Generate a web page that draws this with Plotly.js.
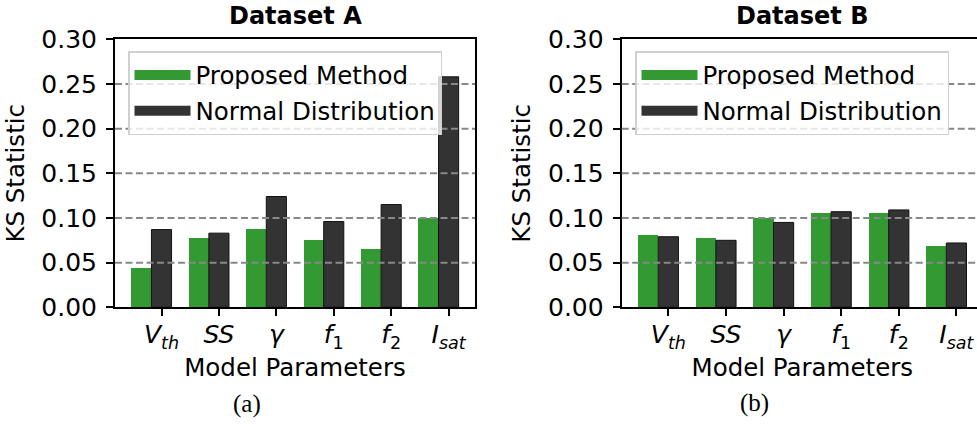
<!DOCTYPE html>
<html>
<head>
<meta charset="utf-8">
<script src="https://cdn.plot.ly/plotly-3.0.1.min.js"></script>
<style>
html,body{margin:0;padding:0;overflow:hidden;background:#fff;width:977px;height:428px;}
#chart{width:984px;height:428px;}
</style>
</head>
<body>
<div id="chart"></div>
<script>
// ---- data ----
const paramLabels = ["<i>V</i><sub><i>th</i></sub>", "<i>SS</i>", "<i>γ</i>", "<i>f</i><sub>1</sub>", "<i>f</i><sub>2</sub>", "<i>I</i><sub><i>sat</i></sub>"];
const paramIndex = [0, 1, 2, 3, 4, 5];
const proposedA = [0.044, 0.078, 0.088, 0.075, 0.065, 0.100];
const normalA   = [0.087, 0.083, 0.124, 0.096, 0.115, 0.258];
const proposedB = [0.081, 0.078, 0.100, 0.106, 0.106, 0.069];
const normalB   = [0.079, 0.075, 0.095, 0.107, 0.109, 0.072];
const gridValues = [0.05, 0.10, 0.15, 0.20, 0.25];
const yTicks = [0, 0.05, 0.10, 0.15, 0.20, 0.25, 0.30];
const yTickText = ["0.00", "0.05", "0.10", "0.15", "0.20", "0.25", "0.30"];
const seriesNames = ["Proposed Method", "Normal Distribution"];
const panelTitles = ["Dataset A", "Dataset B"];
const captions = ["(a)", "(b)"];

// ---- styling ----
const GREEN = "#339933";
const DARK = "#333333";
const W = 984, H = 428;
const FONT = "DejaVu Sans, Verdana, sans-serif";
const barW = 0.35;

function yPaper(px){ return (H - px) / H; }

const domA = [115 / W, 475 / W];
const domB = [621.7 / W, 982.9 / W];
const domY = [yPaper(307.3), yPaper(39.3)];

const traces = [];
function addPanel(props, norms, xa, ya, legendName, grp){
  traces.push({type:"bar", x:paramIndex, y:props, xaxis:xa, yaxis:ya, width:barW, offset:-1.5*barW,
    marker:{color:GREEN, line:{width:0}}, showlegend:false, legendgroup:grp+"1", hoverinfo:"y"});
  traces.push({type:"bar", x:paramIndex, y:norms, xaxis:xa, yaxis:ya, width:barW, offset:-0.5*barW,
    marker:{color:DARK, line:{width:1, color:"#111"}}, showlegend:false, legendgroup:grp+"2", hoverinfo:"y"});
  // legend entries (swatches)
  traces.push({type:"scatter", mode:"lines", x:[null], y:[null], xaxis:xa, yaxis:ya, name:seriesNames[0],
    line:{color:GREEN, width:18}, legend:legendName, legendgroup:grp+"1", hoverinfo:"skip"});
  traces.push({type:"scatter", mode:"lines", x:[null], y:[null], xaxis:xa, yaxis:ya, name:seriesNames[1],
    line:{color:DARK, width:18}, legend:legendName, legendgroup:grp+"2", hoverinfo:"skip"});
}
addPanel(proposedA, normalA, "x", "y", "legend", "a");
addPanel(proposedB, normalB, "x2", "y2", "legend2", "b");

function xAxis(dom, anchor){
  return {domain:dom, anchor:anchor, range:[-0.81, 5.46], tickmode:"array", tickvals:paramIndex, ticktext:paramLabels,
    ticks:"outside", ticklen:7, tickwidth:2, tickcolor:"#000", showline:true, linewidth:2, linecolor:"#000", mirror:true,
    showgrid:false, zeroline:false, layer:"above traces", fixedrange:true, ticklabelstandoff:-3,
    tickfont:{family:FONT, size:25, color:"#000"},
    title:{text:"Model Parameters", font:{family:FONT, size:24.5, color:"#000"}, standoff:0}};
}
function yAxis(anchor){
  return {domain:domY, anchor:anchor, range:[0, 0.30], tickmode:"array", tickvals:yTicks, ticktext:yTickText,
    ticks:"outside", ticklen:7, tickwidth:2, tickcolor:"#000", showline:true, linewidth:2, linecolor:"#000", mirror:true,
    showgrid:false, zeroline:false, layer:"above traces", fixedrange:true, ticklabelstandoff:4,
    tickfont:{family:FONT, size:25, color:"#000"},
    title:{text:"KS Statistic", font:{family:FONT, size:24.5, color:"#000"}, standoff:10}};
}

const shapes = [];
[["x","y"],["x2","y2"]].forEach(([xa,ya]) => {
  gridValues.forEach(v => shapes.push({type:"line", xref:xa+" domain", yref:ya, x0:0, x1:1, y0:v, y1:v,
    layer:"above", line:{color:"#888888", width:2, dash:"7px,3.5px"}}));
});

const annotations = [
  {text:"<b>"+panelTitles[0]+"</b>", xref:"x domain", yref:"paper", x:0.5, y:yPaper(16.5), xanchor:"center", yanchor:"middle",
   showarrow:false, font:{family:FONT, size:24, color:"#000"}},
  {text:"<b>"+panelTitles[1]+"</b>", xref:"x2 domain", yref:"paper", x:0.5, y:yPaper(16.5), xanchor:"center", yanchor:"middle",
   showarrow:false, font:{family:FONT, size:24, color:"#000"}},
  {text:captions[0], xref:"paper", yref:"paper", x:247/W, y:yPaper(404), xanchor:"center", yanchor:"middle",
   showarrow:false, font:{family:"Liberation Serif, DejaVu Serif, serif", size:25, color:"#000"}},
  {text:captions[1], xref:"paper", yref:"paper", x:754/W, y:yPaper(403), xanchor:"center", yanchor:"middle",
   showarrow:false, font:{family:"Liberation Serif, DejaVu Serif, serif", size:25, color:"#000"}}
];

function legendCfg(leftPx){
  return {x:leftPx/W, y:yPaper(51), xanchor:"left", yanchor:"top", xref:"paper", yref:"paper",
    bgcolor:"rgba(255,255,255,0.8)", bordercolor:"#d0d0d0", borderwidth:1.5,
    font:{family:FONT, size:24.5, color:"#000"}, itemwidth:56, tracegroupgap:1, traceorder:"grouped",
    itemclick:false, itemdoubleclick:false};
}

const layout = {
  width:W, height:H, margin:{l:0, r:0, t:0, b:0}, paper_bgcolor:"#fff", plot_bgcolor:"#fff",
  barmode:"overlay", bargap:0,
  xaxis:xAxis(domA, "y"), yaxis:yAxis("x"),
  xaxis2:xAxis(domB, "y2"), yaxis2:yAxis("x2"),
  legend:legendCfg(128), legend2:legendCfg(635),
  shapes:shapes, annotations:annotations, showlegend:true
};

Plotly.newPlot("chart", traces, layout, {displayModeBar:false, staticPlot:true});
</script>
</body>
</html>
